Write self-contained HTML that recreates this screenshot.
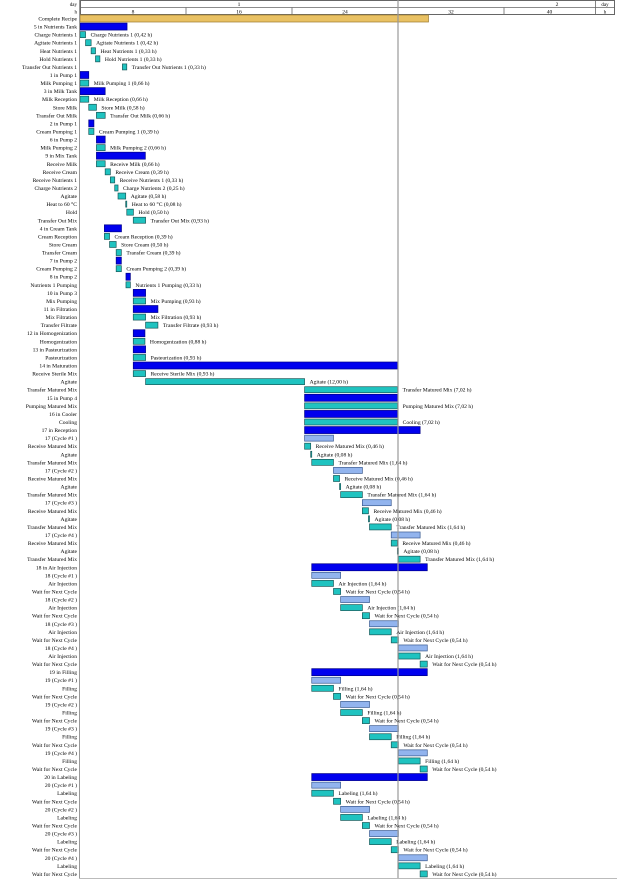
<!DOCTYPE html>
<html><head><meta charset="utf-8"><style>
html,body{margin:0;padding:0;background:#fff;}
svg{display:block;font-family:"Liberation Serif",serif;}
</style></head><body>
<svg id="chart" width="617" height="881" viewBox="0 0 617 881" xmlns="http://www.w3.org/2000/svg">
<g id="header"></g>
<g id="rows"></g>
</svg>
<script>
const rowNames = ["Complete Recipe","5 in Nutrients Tank","Charge Nutrients 1","Agitate Nutrients 1","Heat Nutrients 1","Hold Nutrients 1","Transfer Out Nutrients 1","1 in Pump 1","Milk Pumping 1","3 in Milk Tank","Milk Reception","Store Milk","Transfer Out Milk","2 in Pump 1","Cream Pumping 1","6 in Pump 2","Milk Pumping 2","9 in Mix Tank","Receive Milk","Receive Cream","Receive Nutrients 1","Charge Nutrients 2","Agitate","Heat to 60 °C","Hold","Transfer Out Mix","4 in Cream Tank","Cream Reception","Store Cream","Transfer Cream","7 in Pump 2","Cream Pumping 2","8 in Pump 2","Nutrients 1 Pumping","10 in Pump 3","Mix Pumping","11 in Filtration","Mix Filtration","Transfer Filtrate","12 in Homogenization","Homogenization","13 in Pasteurization","Pasteurization","14 in Maturation","Receive Sterile Mix","Agitate","Transfer Matured Mix","15 in Pump 4","Pumping Matured Mix","16 in Cooler","Cooling","17 in Reception",
"17 (Cycle #1 )","Receive Matured Mix","Agitate","Transfer Matured Mix",
"17 (Cycle #2 )","Receive Matured Mix","Agitate","Transfer Matured Mix",
"17 (Cycle #3 )","Receive Matured Mix","Agitate","Transfer Matured Mix",
"17 (Cycle #4 )","Receive Matured Mix","Agitate","Transfer Matured Mix",
"18 in Air Injection",
"18 (Cycle #1 )","Air Injection","Wait for Next Cycle",
"18 (Cycle #2 )","Air Injection","Wait for Next Cycle",
"18 (Cycle #3 )","Air Injection","Wait for Next Cycle",
"18 (Cycle #4 )","Air Injection","Wait for Next Cycle",
"19 in Filling",
"19 (Cycle #1 )","Filling","Wait for Next Cycle",
"19 (Cycle #2 )","Filling","Wait for Next Cycle",
"19 (Cycle #3 )","Filling","Wait for Next Cycle",
"19 (Cycle #4 )","Filling","Wait for Next Cycle",
"20 in Labeling",
"20 (Cycle #1 )","Labeling","Wait for Next Cycle",
"20 (Cycle #2 )","Labeling","Wait for Next Cycle",
"20 (Cycle #3 )","Labeling","Wait for Next Cycle",
"20 (Cycle #4 )","Labeling","Wait for Next Cycle"];
const rowTypes = ["g","b","t","t","t","t","t","b","t","b","t","t","t","b","t","b","t","b","t","t","t","t","t","t","t","t","b","t","t","t","b","t","b","t","b","t","b","t","t","b","t","b","t","b","t","t","t","b","t","b","t","b",
"l","t","t","t","l","t","t","t","l","t","t","t","l","t","t","t",
"b","l","t","t","l","t","t","l","t","t","l","t","t",
"b","l","t","t","l","t","t","l","t","t","l","t","t",
"b","l","t","t","l","t","t","l","t","t","l","t","t"];
const starts = [0,0,0,0.42,0.84,1.17,3.2,0,0,0,0,0.66,1.24,0.66,0.66,1.24,1.24,1.24,1.24,1.9,2.29,2.62,2.87,3.45,3.53,4.02,1.84,1.84,2.23,2.73,2.73,2.73,3.47,3.47,4.02,4.02,4.02,4.02,4.95,4.02,4.02,4.02,4.02,4.02,4.02,4.95,16.95,16.95,16.95,16.95,16.95,16.95,
16.95,16.95,17.41,17.49, 19.13,19.13,19.59,19.67, 21.31,21.31,21.77,21.85, 23.49,23.49,23.95,24.03,
17.49, 17.49,17.49,19.13, 19.67,19.67,21.31, 21.85,21.85,23.49, 24.03,24.03,25.67,
17.49, 17.49,17.49,19.13, 19.67,19.67,21.31, 21.85,21.85,23.49, 24.03,24.03,25.67,
17.49, 17.49,17.49,19.13, 19.67,19.67,21.31, 21.85,21.85,23.49, 24.03,24.03,25.67];
const durations = [26.3,3.55,0.42,0.42,0.33,0.33,0.33,0.66,0.66,1.9,0.66,0.58,0.66,0.39,0.39,0.66,0.66,3.69,0.66,0.39,0.33,0.25,0.58,0.08,0.5,0.93,1.29,0.39,0.5,0.39,0.39,0.39,0.33,0.33,0.93,0.93,1.86,0.93,0.93,0.88,0.88,0.93,0.93,19.95,0.93,12.0,7.02,7.02,7.02,7.02,7.02,8.72,
2.18,0.46,0.08,1.64, 2.18,0.46,0.08,1.64, 2.18,0.46,0.08,1.64, 2.18,0.46,0.08,1.64,
8.72, 2.18,1.64,0.54, 2.18,1.64,0.54, 2.18,1.64,0.54, 2.18,1.64,0.54,
8.72, 2.18,1.64,0.54, 2.18,1.64,0.54, 2.18,1.64,0.54, 2.18,1.64,0.54,
8.72, 2.18,1.64,0.54, 2.18,1.64,0.54, 2.18,1.64,0.54, 2.18,1.64,0.54];
const hourTicks = [8,16,24,32];
const hourLabels = ["8","16","24","32","40"];
const dayLabels = ["1","2"];

const NS = "http://www.w3.org/2000/svg";
const X0 = 80, PX = 13.25, Y0 = 18.5, RH = 8.07, XEND = 595;
function xs(h){ return X0 + PX*h; }
function ys(i){ return Y0 + RH*i; }
function mk(tag, attrs, parent){
  const e = document.createElementNS(NS, tag);
  for (const k in attrs) e.setAttribute(k, attrs[k]);
  parent.appendChild(e); return e;
}
const svg = document.getElementById("chart");
const hdr = document.getElementById("header");
const rows = document.getElementById("rows");

let ln = mk("line",{x1:79.5,y1:0,x2:79.5,y2:878,stroke:"#999","stroke-width":1},svg);


ln = mk("line",{x1:79,y1:878.5,x2:617,y2:878.5,stroke:"#bbb","stroke-width":1},svg);


ln = mk("line",{x1:xs(24),y1:0,x2:xs(24),y2:878,stroke:"#999","stroke-width":1.2},svg);



let r = mk("rect",{x:80.5,y:0.5,width:534,height:14,fill:"#fff",stroke:"#666","stroke-width":1},hdr);


mk("line",{x1:80,y1:7.5,x2:615,y2:7.5,stroke:"#666","stroke-width":0.8},hdr);
mk("line",{x1:XEND+0.5,y1:0,x2:XEND+0.5,y2:15,stroke:"#666","stroke-width":0.8},hdr);
mk("line",{x1:xs(24),y1:0,x2:xs(24),y2:7.5,stroke:"#666","stroke-width":0.8},hdr);
hourTicks.forEach(function(h){
  const t = mk("line",{x1:xs(h),y1:7.5,x2:xs(h),y2:15,stroke:"#666","stroke-width":0.8},hdr);
  
  
});
hourLabels.forEach(function(lab,i){
  const a = xs(8*i), b = Math.min(xs(8*(i+1)), XEND);
  const t = mk("text",{x:(a+b)/2,y:13.5,"font-size":5.5,"text-anchor":"middle",fill:"#000"},hdr);
  t.textContent = lab;
  
  
});
dayLabels.forEach(function(lab,i){
  const t = mk("text",{x:i===0?239:557,y:6,"font-size":5.5,"text-anchor":"middle",fill:"#000"},hdr);
  t.textContent = lab;
  
  
});
let t1 = mk("text",{x:605,y:6,"font-size":5,"text-anchor":"middle",fill:"#000"},hdr);
t1.textContent = "day";


let t2 = mk("text",{x:605,y:13.5,"font-size":5,"text-anchor":"middle",fill:"#000"},hdr);
t2.textContent = "h";


let t3 = mk("text",{x:77,y:6,"font-size":5,"text-anchor":"end",fill:"#000"},hdr);
t3.textContent = "day";


let t4 = mk("text",{x:77,y:13.5,"font-size":5,"text-anchor":"end",fill:"#000"},hdr);
t4.textContent = "h";



const styles = {
  g:{fill:"#E9C163",stroke:"#9a7a30",h:7},
  b:{fill:"#0000EE",stroke:"#000088",h:7},
  t:{fill:"#1FC3C0",stroke:"#1a5a5a",h:6},
  l:{fill:"#92B4EE",stroke:"#3a5a90",h:6}
};
function fmt(d){ return d.toFixed(2).replace(".",","); }

rowNames.forEach(function(name,i){
  const y = ys(i);
  const lab = mk("text",{x:77,y:y+2,"font-size":5.6,"text-anchor":"end",fill:"#000"},rows);
  lab.textContent = name;
  
  
  const st = styles[rowTypes[i]];
  const x = xs(starts[i]);
  const w = Math.max(PX*durations[i], 1);
  const bar = mk("rect",{x:x,y:y-st.h/2,width:w,height:st.h,fill:st.fill,stroke:st.stroke,"stroke-width":0.7},rows);
  
  
  if (rowTypes[i] === "t") {
    const bl = mk("text",{x:x+w+5,y:y+2,"font-size":5.6,fill:"#000"},rows);
    bl.textContent = name + " (" + fmt(durations[i]) + " h)";
    
    
  }
});
</script>
</body></html>
